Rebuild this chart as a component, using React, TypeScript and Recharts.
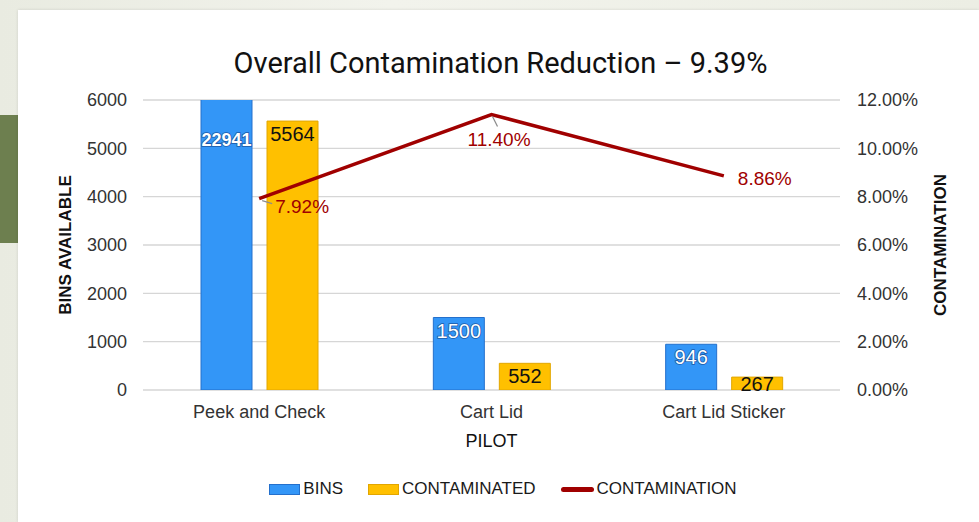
import { ComposedChart, Bar, Line, XAxis, YAxis, CartesianGrid, Legend, LabelList, Label } from "recharts";

// pilot programs and their numbers
const pilots = ["Peek and Check", "Cart Lid", "Cart Lid Sticker"];
const bins = [22941, 1500, 946];
const contaminated = [5564, 552, 267];
const contaminationRate = [0.0792, 0.114, 0.0886];

const binTicks = [0, 1000, 2000, 3000, 4000, 5000, 6000];
const rateTicks = [0, 0.02, 0.04, 0.06, 0.08, 0.1, 0.12];

const data = pilots.map((pilot, i) => ({
  pilot,
  bins: bins[i],
  contaminated: contaminated[i],
  rate: contaminationRate[i],
}));

const W = 979;
const H = 522;
const PLOT_TOP = 100;
const FONT = "'Liberation Sans', Arial, sans-serif";

const BLUE = "#3396f7";
const BLUE_EDGE = "#2470cc";
const GOLD = "#ffc000";
const GOLD_EDGE = "#e2a600";
const RED = "#a00000";

const pct = (v: number) => `${(v * 100).toFixed(2)}%`;

// value labels inside the top of each bar; the clipped bar keeps its label in view
const barValue = (color: string, outline?: string) => (props: any) => {
  const { x, y, width, height, value } = props;
  const cy = y < PLOT_TOP ? PLOT_TOP + 40 : y + Math.min(13, height / 2);
  const size = value > 9999 ? 18 : 20;
  return (
    <text
      x={x + width / 2}
      y={cy}
      textAnchor="middle"
      dominantBaseline="central"
      fontFamily={FONT}
      fontSize={size}
      fontWeight={value > 9999 ? "bold" : "normal"}
      fill={color}
      stroke={outline}
      strokeWidth={outline ? 1.6 : 0}
      paintOrder="stroke"
    >
      {value}
    </text>
  );
};

// offsets of the percentage labels from their points
const rateLabelOffset = [
  { dx: 16, dy: 8, lead: [3, 2, 13, 5] },
  { dx: -24, dy: 25, lead: [1, 2, 6, 12] },
  { dx: 14, dy: 3, lead: null },
];

const rateValue = (props: any) => {
  const { x, y, value, index } = props;
  const o = rateLabelOffset[index];
  return (
    <g>
      {o.lead && (
        <line
          x1={x + o.lead[0]}
          y1={y + o.lead[1]}
          x2={x + o.lead[2]}
          y2={y + o.lead[3]}
          stroke="#8c8c8c"
          strokeWidth={1.2}
        />
      )}
      <text
        x={x + o.dx}
        y={y + o.dy}
        dominantBaseline="central"
        fontFamily={FONT}
        fontSize={19}
        fill={RED}
      >
        {pct(value)}
      </text>
    </g>
  );
};

const axisTitle = (text: string, dx: number) => (props: any) => {
  const { x, y, height } = props.viewBox;
  const cx = x + dx;
  const cy = y + height / 2;
  return (
    <text
      x={cx}
      y={cy}
      transform={`rotate(-90 ${cx} ${cy})`}
      textAnchor="middle"
      dominantBaseline="central"
      fontFamily={FONT}
      fontSize={17}
      fontWeight="bold"
      fill="#111"
    >
      {text}
    </text>
  );
};

const legendItems = [
  { label: "BINS", kind: "bar", color: BLUE, edge: BLUE_EDGE },
  { label: "CONTAMINATED", kind: "bar", color: GOLD, edge: GOLD_EDGE },
  { label: "CONTAMINATION", kind: "line", color: RED, edge: RED },
];

const LegendBox = () => (
  <div
    style={{
      display: "flex",
      justifyContent: "center",
      alignItems: "center",
      height: 24,
      paddingLeft: 27,
      fontFamily: FONT,
      fontSize: 17,
      color: "#1a1a1a",
    }}
  >
    {legendItems.map((it, i) => (
      <div key={it.label} style={{ display: "flex", alignItems: "center", marginLeft: i === 0 ? 0 : 25 }}>
        {it.kind === "bar" ? (
          <span
            style={{
              width: 29,
              height: 9,
              background: it.color,
              border: `1px solid ${it.edge}`,
              marginRight: 3,
            }}
          />
        ) : (
          <span
            style={{
              width: 33,
              height: 5,
              borderRadius: 3,
              background: it.color,
              marginRight: 3,
            }}
          />
        )}
        <span>{it.label}</span>
      </div>
    ))}
  </div>
);

export default function App() {
  return (
    <div
      style={{
        position: "fixed",
        left: 0,
        top: 0,
        width: W,
        height: H,
        overflow: "hidden",
        background: "linear-gradient(90deg, #e9ebe1 0%, #f2f3ec 40%, #eceee4 100%)",
      }}
    >
      <div style={{ position: "absolute", left: 0, top: 115, width: 18, height: 128, background: "#6d7f4f" }} />
      <div
        style={{
          position: "absolute",
          left: 18,
          top: 10,
          right: 0,
          bottom: 0,
          background: "#fff",
          boxShadow: "0 0 3px rgba(0,0,0,0.12)",
        }}
      />
      <div
        style={{
          position: "absolute",
          left: 0,
          top: 44,
          width: 1001,
          textAlign: "center",
          fontFamily: "Roboto, sans-serif",
          fontSize: 29,
          lineHeight: "38px",
          color: "#111",
        }}
      >
        Overall Contamination Reduction – 9.39%
      </div>
      <div style={{ position: "absolute", left: 0, top: 0 }}>
        <ComposedChart
          width={W}
          height={H}
          data={data}
          margin={{ top: PLOT_TOP, right: 0, bottom: 21, left: 0 }}
          barSize={51}
          barGap={15}
        >
          <CartesianGrid vertical={false} stroke="#d6d6d6" strokeWidth={1.3} yAxisId="left" />
          <XAxis
            dataKey="pilot"
            height={87}
            axisLine={false}
            tickLine={false}
            tickSize={0}
            tickMargin={15}
            tick={{ fontFamily: FONT, fontSize: 18, fill: "#333" }}
          >
            <Label
              value="PILOT"
              position="insideBottom"
              offset={30}
              style={{ fontFamily: FONT, fontSize: 18, fill: "#111", fontWeight: 500 }}
            />
          </XAxis>
          <YAxis
            yAxisId="left"
            width={143}
            domain={[0, 6000]}
            ticks={binTicks}
            allowDataOverflow
            axisLine={false}
            tickLine={false}
            tickSize={0}
            tickMargin={16}
            tick={{ fontFamily: FONT, fontSize: 18, fill: "#333" }}
          >
            <Label content={axisTitle("BINS AVAILABLE", 65)} />
          </YAxis>
          <YAxis
            yAxisId="right"
            orientation="right"
            width={139}
            domain={[0, 0.12]}
            ticks={rateTicks}
            tickFormatter={pct}
            axisLine={false}
            tickLine={false}
            tickSize={0}
            tickMargin={17}
            tick={{ fontFamily: FONT, fontSize: 18, fill: "#333", textAnchor: "start" }}
          >
            <Label content={axisTitle("CONTAMINATION", 100)} />
          </YAxis>
          <Legend verticalAlign="bottom" content={<LegendBox />} />
          <Bar yAxisId="left" dataKey="bins" name="BINS" fill={BLUE} stroke={BLUE_EDGE} strokeWidth={1} isAnimationActive={false}>
            <LabelList dataKey="bins" content={barValue("#fff", "#1c5aa8")} />
          </Bar>
          <Bar
            yAxisId="left"
            dataKey="contaminated"
            name="CONTAMINATED"
            fill={GOLD}
            stroke={GOLD_EDGE}
            strokeWidth={1}
            isAnimationActive={false}
          >
            <LabelList dataKey="contaminated" content={barValue("#111")} />
          </Bar>
          <Line
            yAxisId="right"
            dataKey="rate"
            name="CONTAMINATION"
            stroke={RED}
            strokeWidth={3.5}
            dot={false}
            activeDot={false}
            isAnimationActive={false}
          >
            <LabelList dataKey="rate" content={rateValue} />
          </Line>
        </ComposedChart>
      </div>
    </div>
  );
}
